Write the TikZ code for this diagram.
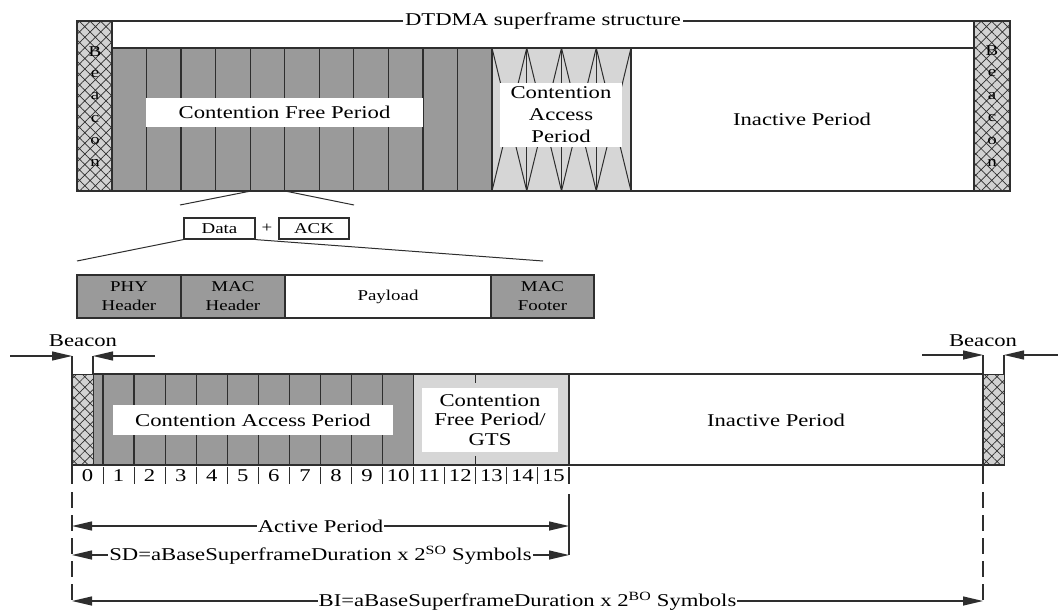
\documentclass[tikz,border=0pt]{standalone}
\usepackage{fontspec}
\setmainfont{Liberation Serif}[FakeStretch=1.26]
\usetikzlibrary{patterns.meta,arrows.meta}
\definecolor{dk}{HTML}{9A9A9A}
\definecolor{lt}{HTML}{D6D6D6}
\definecolor{ln}{HTML}{2E2E2E}
\definecolor{hb}{HTML}{D2D2D2}
\newcommand\bigtxt{\fontsize{18}{22}\selectfont}
\newcommand\midtxt{\fontsize{15}{19}\selectfont}
\newcommand\btxt{\fontsize{15}{18}\selectfont}
\begin{document}
\begin{tikzpicture}[x=1pt,y=-1pt,
  bd/.style={draw=ln,line width=1.3pt},
  thinl/.style={draw=ln,line width=1pt},
  hatchfill/.style={fill=hb,postaction={pattern={Hatch[angle=45,distance=7.5pt,line width=0.7pt]},pattern color=ln}},
  lbl/.style={fill=white,inner sep=0pt,align=center,font=\bigtxt},
  txt/.style={inner sep=0pt,align=center,font=\bigtxt},
  mtxt/.style={inner sep=0pt,align=center,font=\midtxt},
  tip/.tip={Triangle[length=20pt,width=9pt]},
  arr/.style={draw=ln,line width=1.2pt,-tip},
  darr/.style={draw=ln,line width=1.2pt,tip-tip},
  dash line/.style={draw=ln,line width=1.2pt,dash pattern=on 16pt off 7pt},
]
\useasboundingbox (0,0) rectangle (1058,610);
% ---------------- top superframe ----------------
\fill[dk] (112,48) rectangle (492,191);
\fill[lt] (492,48) rectangle (631,191);
\path[hatchfill] (77,21) rectangle (112,191);
\path[hatchfill] (974,21) rectangle (1010,191);
\foreach \k in {1,...,10} \draw[bd] ({112+34.545*\k},48) -- ({112+34.545*\k},191);
\foreach \k in {0,...,3} \draw[thinl] ({492+34.75*\k},48) -- ({492+34.75*(\k+1)},191) ({492+34.75*\k},191) -- ({492+34.75*(\k+1)},48);
\foreach \k in {1,2,3} \draw[bd] ({492+34.75*\k},48) -- ({492+34.75*\k},191);
\draw[bd] (492,48) -- (492,191) (631,48) -- (631,191) (112,48) -- (974,48) (112,21) -- (112,191) (974,21) -- (974,191);
\draw[bd] (77,21) rectangle (1010,191);
\node[fill=white,inner xsep=2pt,inner ysep=1pt,font=\bigtxt] (title) at (543,21) {DTDMA superframe structure};
\foreach \c [count=\i from 0] in {B,e,a,c,o,n} {
  \node[inner sep=0pt,font=\btxt] (lb\i) at (95,{52+22.2*\i}) {\c};
  \node[inner sep=0pt,font=\btxt] (rb\i) at (992,{51+22.4*\i}) {\c};
}
\node[lbl,minimum width=277pt,minimum height=29pt] (cfp) at (284.5,112.5) {Contention Free Period};
\node[lbl,minimum width=122pt,minimum height=64pt] (cap) at (561,115) {Contention\\Access\\Period};
\node[txt] (inact) at (802,119) {Inactive Period};
% ---------------- data + ack ----------------
\coordinate (s4l) at (251,191);
\coordinate (s4r) at (285,191);
\coordinate (f1) at (180,205);
\coordinate (f2) at (354,205);
\draw[thinl] (s4l) -- (f1) (s4r) -- (f2);
\node[draw=ln,line width=1.2pt,fill=white,minimum width=71pt,minimum height=21pt,inner sep=0pt,font=\midtxt] (data) at (219.5,228.5) {Data};
\node[inner sep=0pt,font=\midtxt] (plus) at (267,228) {+};
\node[draw=ln,line width=1.2pt,fill=white,minimum width=70pt,minimum height=21pt,inner sep=0pt,font=\midtxt] (ack) at (314,228.5) {ACK};
\coordinate (g1) at (77,261);
\coordinate (g2) at (543,261);
\draw[thinl] (data.south west) -- (g1) (data.south east) -- (g2);
% packet
\fill[dk] (77,275) rectangle (285,318);
\fill[dk] (491,275) rectangle (594,318);
\draw[bd] (77,275) rectangle (594,318) (181,275) -- (181,318) (285,275) -- (285,318) (491,275) -- (491,318);
\node[mtxt] (phy) at (129,296.5) {PHY\\Header};
\node[mtxt] (mach) at (233,296.5) {MAC\\Header};
\node[mtxt] (pay) at (388,296.5) {Payload};
\node[mtxt] (macf) at (542.5,296.5) {MAC\\Footer};
% ---------------- bottom superframe ----------------
\fill[dk] (93,374) rectangle (413.69,465);
\fill[lt] (413.69,374) rectangle (569,465);
\path[hatchfill] (72,374) rectangle (93,465);
\path[hatchfill] (983,374) rectangle (1004,465);
\draw[thinl] (72,374) rectangle (93,465) (983,374) rectangle (1004,465);
\foreach \k in {1,...,11} \draw[bd] ({72+31.0625*\k},374) -- ({72+31.0625*\k},465);
\draw[bd] (475.81,374) -- (475.81,383) (475.81,456) -- (475.81,465);
\draw[bd] (569,374) -- (569,465);
\draw[bd] (93,374) -- (983,374) (72,465) -- (1004,465);
\node[lbl,minimum width=280pt,minimum height=30pt] (bcap) at (253,420) {Contention Access Period};
\node[lbl,minimum width=136pt,minimum height=64pt,font=\fontsize{18}{19.5}\selectfont] (bcfp) at (490,420) {Contention\\Free Period/\\GTS};
\node[txt] (binact) at (776,420) {Inactive Period};
% slot numbers
\foreach \k in {0,...,15} \node[txt] (n\k) at ({72+31.0625*(\k+0.5)},476) {\k};
\foreach \k in {1,...,15} \draw[thinl] ({72+31.0625*\k},467) -- ({72+31.0625*\k},484);
% beacon markers
\node[txt] (beaconL) at (83,341) {Beacon};
\node[txt] (beaconR) at (983,341) {Beacon};
\coordinate (a1) at (10,356); \coordinate (a2) at (72,356);
\coordinate (a3) at (155,356); \coordinate (a4) at (93,356);
\draw[arr] (a1) -- (a2);
\draw[arr] (a3) -- (a4);
\coordinate (b1) at (922,355); \coordinate (b2) at (983,355);
\coordinate (b3) at (1058,355); \coordinate (b4) at (1004,355);
\draw[arr] (b1) -- (b2);
\draw[arr] (b3) -- (b4);
\draw[bd] (a2) -- (72,484) (a4) -- (93,374) (b2) -- (983,484) (b4) -- (1004,374);
\draw[bd] (569,467) -- (569,484);
% period arrows
\coordinate (pL1) at (72,526); \coordinate (pR1) at (569,526);
\coordinate (pL2) at (72,555); \coordinate (pR2) at (569,555);
\coordinate (pL3) at (72,601); \coordinate (pR3) at (983,601);
\draw[dash line] (72,492) -- (pL3);
\draw[dash line] (983,492) -- (pR3);
\draw[bd] (569,494) -- (pR2);
\draw[darr] (pL1) -- (pR1) node[midway,lbl,inner xsep=1pt] (actp) {Active Period};
\draw[darr] (pL2) -- (pR2) node[midway,lbl,inner xsep=1pt] (sd) {SD=aBaseSuperframeDuration x 2\textsuperscript{SO} Symbols};
\draw[darr] (pL3) -- (pR3) node[midway,lbl,inner xsep=1pt] (bi) {BI=aBaseSuperframeDuration x 2\textsuperscript{BO} Symbols};
\end{tikzpicture}
\end{document}
